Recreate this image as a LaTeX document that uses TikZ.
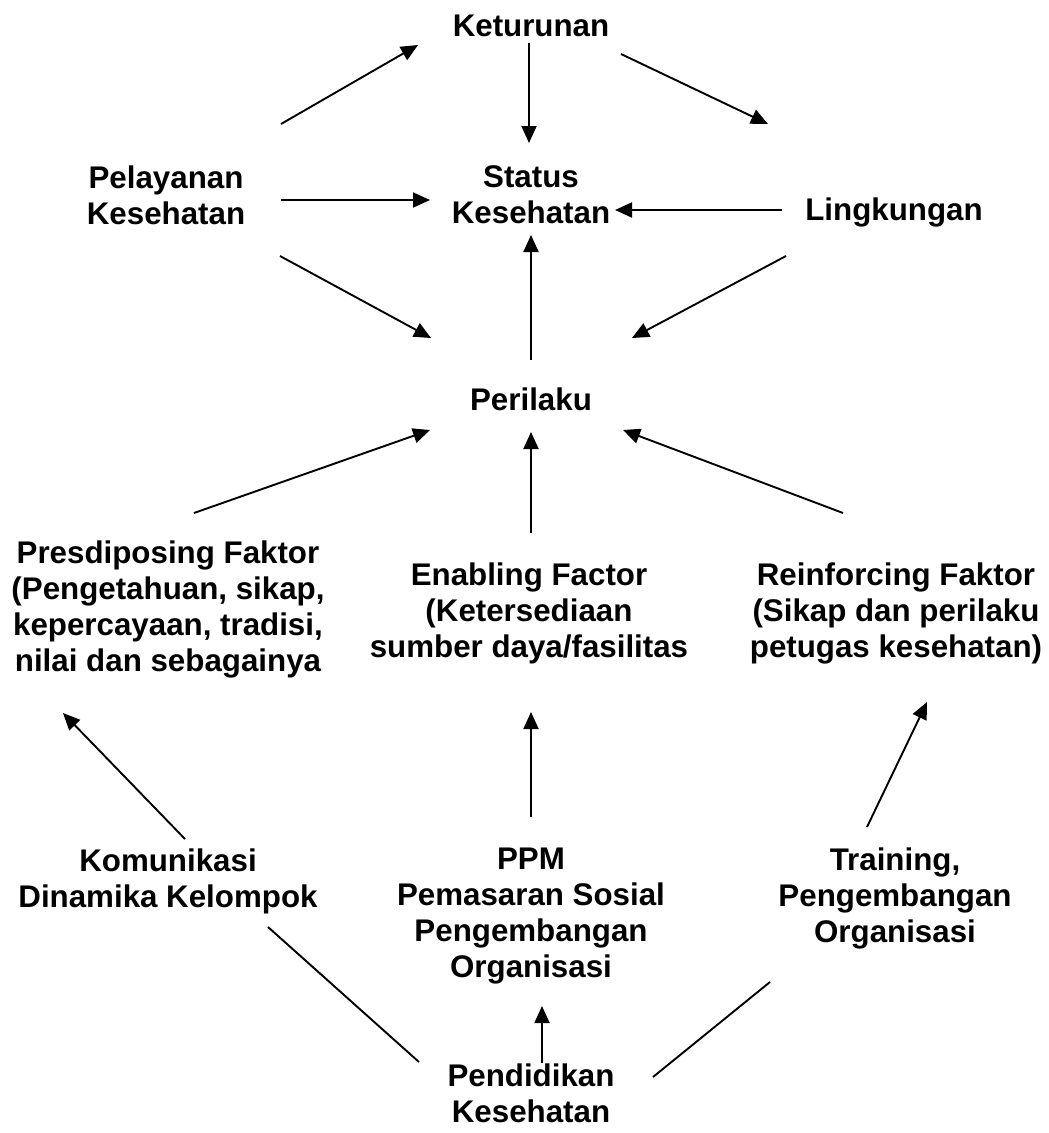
\documentclass[tikz,border=0pt]{standalone}
\usepackage{fontspec}
\setmainfont{Liberation Sans}
\usetikzlibrary{arrows.meta,calc}
\tikzset{
  lbl/.style={font=\fontsize{31.3}{36}\selectfont\bfseries, align=center, inner sep=0pt},
  arr/.style={line width=1.9pt, -{Triangle[length=17pt,width=15pt]}},
  ln/.style={line width=1.9pt}
}
\begin{document}
\begin{tikzpicture}[x=1pt,y=-1pt]
\useasboundingbox[fill=white] (0,0) rectangle (1049,1133);
\node[lbl] (ket) at (531,26) {Keturunan};
\node[lbl] (sta) at (531,195) {Status\\Kesehatan};
\node[lbl] (pel) at (166,195) {Pelayanan\\Kesehatan};
\node[lbl] (lin) at (894,212) {Lingkungan};
\node[lbl] (per) at (531,399) {Perilaku};
\node[lbl] (pre) at (168,609) {Presdiposing Faktor\\(Pengetahuan, sikap,\\kepercayaan, tradisi,\\nilai dan sebagainya};
\node[lbl] (ena) at (529,613) {Enabling Factor\\(Ketersediaan\\sumber daya/fasilitas};
\node[lbl] (rei) at (896,613) {Reinforcing Faktor\\(Sikap dan perilaku\\petugas kesehatan)};
\node[lbl] (kom) at (168,881) {Komunikasi\\Dinamika Kelompok};
\node[lbl] (ppm) at (531,916) {PPM\\Pemasaran Sosial\\Pengembangan\\Organisasi};
\node[lbl] (tra) at (895,898) {Training,\\Pengembangan\\Organisasi};
\node[lbl] (pen) at (531,1093) {Pendidikan\\Kesehatan};

\draw[arr] ($(pel)+(115,-71)$) -- ($(ket)+(-113,19)$);
\draw[arr] ($(ket)+(-2,17)$) -- ($(sta)+(-2,-52)$);
\draw[arr] ($(ket)+(90,28)$) -- ($(lin)+(-126,-88)$);
\draw[arr] ($(pel)+(115,5)$) -- ($(sta)+(-101,5)$);
\draw[arr] ($(lin)+(-112,-2)$) -- ($(sta)+(84,15)$);
\draw[arr] ($(pel)+(114,61)$) -- ($(per)+(-100,-61)$);
\draw[arr] ($(lin)+(-108,44)$) -- ($(per)+(101,-61)$);
\draw[arr] ($(per)+(0,-39)$) -- ($(sta)+(0,40)$);
\draw[arr] ($(pre)+(26,-96)$) -- ($(per)+(-101,31)$);
\draw[arr] ($(ena)+(2,-80)$) -- ($(per)+(0,33)$);
\draw[arr] ($(rei)+(-53,-100)$) -- ($(per)+(92,31)$);
\draw[arr] ($(kom)+(17,-42)$) -- ($(pre)+(-105,104)$);
\draw[arr] ($(ppm)+(0,-99)$) -- ($(ena)+(2,99)$);
\draw[arr] ($(tra)+(-28,-71)$) -- ($(rei)+(31,89)$);
\draw[arr] ($(pen)+(11,-30)$) -- ($(ppm)+(11,90)$);
\draw[ln] ($(kom)+(100,46)$) -- ($(pen)+(-112,-31)$);
\draw[ln] ($(tra)+(-125,84)$) -- ($(pen)+(122,-16)$);
\end{tikzpicture}
\end{document}
